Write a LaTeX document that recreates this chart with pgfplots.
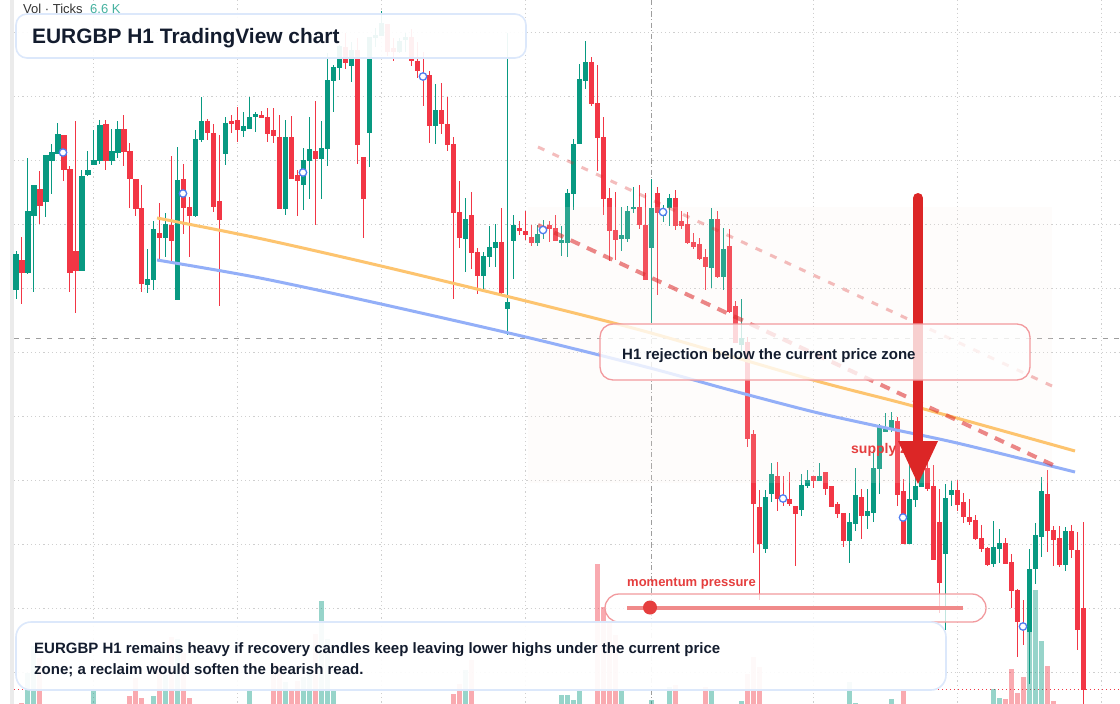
\documentclass[border=0pt]{standalone}
\usepackage{pgfplots}
\usepackage{pgfplotstable}
\usepackage{fontspec}
\setmainfont{Liberation Sans}
\pgfplotsset{compat=1.18}
\definecolor{cg}{HTML}{089981}
\definecolor{cr}{HTML}{F23645}
\definecolor{ink}{HTML}{131C2E}
\definecolor{boxb}{HTML}{DCE8FB}
\definecolor{pinkb}{HTML}{F29A9E}
\definecolor{lab}{HTML}{E53E3E}
\definecolor{orangel}{HTML}{FDC46F}
\definecolor{bluel}{HTML}{93AFF8}
\definecolor{griddot}{HTML}{CFCFCF}
\definecolor{cross}{HTML}{9E9E9E}
\definecolor{mk}{HTML}{4F7CF0}
\definecolor{arrowc}{HTML}{DC2626}
\definecolor{zonec}{HTML}{FBEDE6}
\definecolor{pillc}{HTML}{F08A8A}

\pgfplotstableread{
i top bot hi lo
0 254 290 251 299
2 211 273 158 274
3 185 216 185 292
5 155 202 155 217
6 152 161 144 194
7 134 154 123 154
11 176 271 170 271
12 170 175 151 176
13 160 165 130 165
14 125 161 120 164
16 151 161 129 165
17 129 153 121 158
22 279 285 249 293
23 229 280 221 290
25 224 238 213 257
27 180 300 147 300
30 139 216 130 217
31 121 140 97 142
35 123 154 117 165
38 126 131 112 137
39 117 129 97 129
40 114 117 112 132
45 137 209 120 215
48 160 185 148 210
49 149 161 117 199
51 148 159 121 199
52 80 149 53 166
53 67 81 65 112
54 46 68 45 80
56 50 66 42 82
59 37 133 37 167
60 35 38 28 47
61 23 36 11 36
64 41 52 38 53
65 37 40 33 52
70 110 126 84 144
75 219 239 198 272
78 256 276 252 289
79 247 257 226 267
80 242 248 224 267
82 302 309 33 335
83 225 241 215 279
87 234 243 225 246
88 229 232 220 239
91 240 243 226 256
92 193 243 189 257
93 144 194 139 210
94 79 144 64 144
95 62 81 41 89
101 235 239 207 251
102 211 239 206 242
103 207 209 187 213
106 208 248 179 323
108 209 216 205 222
109 198 208 194 226
116 219 268 208 288
118 249 277 228 290
121 338 345 299 352
125 497 549 490 553
126 474 494 463 502
131 485 510 474 516
132 480 486 470 488
134 476 481 463 481
139 522 541 513 563
140 495 524 468 531
142 511 516 489 529
143 468 513 450 522
144 427 469 424 494
145 429 432 413 432
146 420 430 412 432
149 499 544 465 544
150 486 500 460 507
151 470 487 450 487
155 498 554 484 630
156 490 495 481 506
163 547 564 521 567
164 543 549 529 563
169 569 632 549 684
170 535 569 523 584
171 491 537 477 557
175 531 565 527 571
}\greens

\pgfplotstableread{
i top bot hi lo
1 260 273 237 304
4 189 206 171 224
8 135 170 135 181
9 169 273 166 292
10 251 271 121 313
15 124 161 120 170
18 129 152 115 166
19 151 179 143 208
20 179 209 179 216
21 208 284 185 292
24 233 238 203 261
26 225 241 156 262
28 179 208 164 234
29 207 216 197 257
32 121 133 119 140
33 133 207 124 212
34 201 220 135 306
36 121 124 115 133
37 120 130 107 142
41 115 118 111 118
42 117 134 108 142
43 130 136 108 143
44 137 209 115 209
46 137 179 116 179
47 175 181 170 216
50 151 159 101 225
55 47 63 33 69
57 50 145 38 164
58 157 199 157 238
62 24 52 24 56
63 48 52 38 61
66 37 61 29 66
67 61 71 42 78
68 73 79 52 106
69 75 126 71 143
71 110 124 83 134
72 124 145 97 151
73 144 213 137 299
74 212 238 181 248
76 215 253 192 269
77 252 276 248 294
81 242 293 208 294
84 228 231 221 235
85 231 235 211 240
86 237 243 225 246
89 225 229 221 242
90 228 241 215 241
96 62 104 57 106
97 103 138 65 171
98 137 199 117 215
99 198 231 188 261
100 230 240 192 260
104 207 225 185 229
105 225 280 193 280
107 193 213 187 295
110 198 226 190 230
111 221 226 211 229
112 224 243 212 244
113 242 247 233 249
114 244 259 238 260
115 257 267 249 290
117 219 277 211 278
119 246 312 229 313
120 306 343 301 343
122 342 439 337 447
123 434 504 430 553
124 507 544 490 600
127 476 499 462 511
128 497 501 476 506
129 499 504 472 506
130 506 514 506 566
133 476 481 476 488
135 472 489 472 495
136 486 507 486 507
137 504 514 502 518
138 513 541 513 547
141 497 516 489 539
147 421 495 417 506
148 491 544 479 544
152 468 489 453 491
153 486 560 465 560
154 522 583 489 613
157 490 505 480 511
158 502 517 493 523
159 517 522 499 525
160 520 539 515 540
161 538 549 525 552
162 548 565 547 566
165 543 564 538 564
166 562 591 554 608
167 590 622 589 657
168 623 630 600 645
172 494 531 470 552
173 530 540 526 566
174 538 565 526 567
176 531 550 525 558
177 550 630 532 650
178 608 690 522 704
}\reds

\pgfplotstableread{
i top
2 673
3 646
13 690
23 696
25 675
27 639
39 691
45 682
48 677
49 670
51 601
52 639
53 690
75 670
91 695
92 695
93 700
94 689
101 689
106 700
109 687
116 689
121 701
139 682
140 703
146 699
163 689
164 698
169 630
170 590
171 641
}\volg

\pgfplotstableread{
i top
1 703
4 658
19 696
20 678
21 698
24 663
26 637
28 653
29 698
43 663
44 665
46 691
47 681
50 634
73 694
74 684
76 660
97 564
98 607
99 623
100 635
110 685
115 687
122 674
123 657
124 667
148 690
165 699
166 669
167 693
168 677
172 666
173 701
}\volr

\pgfplotstableread{
x y
63 152.5
183 193.5
303 172.5
423 76.5
543 230
663 212
783 498.5
903 517.5
1023 626.5
}\marks

\pgfplotsset{ebar/.style n args={3}{draw=none,forget plot,mark=none,
  error bars/.cd,y dir=plus,y explicit,error mark=none,
  error bar style={solid,draw=#1,line width=#2,opacity=#3}}}

\begin{document}
\begin{tikzpicture}
\begin{axis}[at={(0,0)},anchor=south west,scale only axis,width=1120pt,height=704pt,
  xmin=0,xmax=1120,ymin=0,ymax=704,y dir=reverse,hide axis,clip=true]

% page background
\fill[white] (axis cs:0,0) rectangle (axis cs:1120,704);
% background strip and grid
\fill[black!8] (axis cs:10,0) rectangle (axis cs:14,704);
\pgfplotsinvokeforeach{32,96,160,224,288,352,416,480,544,608,672}{
  \draw[griddot,line width=0.9pt,dash pattern=on 1.2pt off 3pt] (axis cs:14,#1.5) -- (axis cs:1120,#1.5);}
\pgfplotsinvokeforeach{93.5,237.5,381.5,525.5,813.5,957.5,1101.5}{
  \draw[griddot,line width=0.9pt,dash pattern=on 1.2pt off 3pt] (axis cs:#1,0) -- (axis cs:#1,704);}
\draw[cross,line width=0.9pt,dash pattern=on 5.3pt off 5.7pt] (axis cs:14,338.5) -- (axis cs:1120,338.5);
\draw[cross,line width=0.9pt,dash pattern=on 5.3pt off 2.5pt on 1pt off 2.5pt] (axis cs:651.5,0) -- (axis cs:651.5,704);
\draw[cr,line width=1pt,dash pattern=on 1.2pt off 2.8pt] (axis cs:14,689.5) -- (axis cs:1120,689.5);

% volume
\addplot[ebar={cg}{5pt}{0.42}] table[x expr=16+5.995*\thisrow{i},y=top,y error plus expr=704-\thisrow{top}] {\volg};
\addplot[ebar={cr}{5pt}{0.42}] table[x expr=16+5.995*\thisrow{i},y=top,y error plus expr=704-\thisrow{top}] {\volr};

% candles: wicks, then bodies
\addplot[ebar={cg}{1pt}{1}] table[x expr=16+5.995*\thisrow{i},y=hi,y error plus expr=\thisrow{lo}-\thisrow{hi}] {\greens};
\addplot[ebar={cr}{1pt}{1}] table[x expr=16+5.995*\thisrow{i},y=hi,y error plus expr=\thisrow{lo}-\thisrow{hi}] {\reds};
\addplot[ebar={cg}{5.2pt}{1}] table[x expr=16+5.995*\thisrow{i},y=top,y error plus expr=\thisrow{bot}-\thisrow{top}] {\greens};
\addplot[ebar={cr}{5.2pt}{1}] table[x expr=16+5.995*\thisrow{i},y=top,y error plus expr=\thisrow{bot}-\thisrow{top}] {\reds};

% sampled markers
\addplot[only marks,forget plot,mark=*,mark size=3.7pt,mark options={draw=mk,fill=white,line width=1.3pt}] table[x=x,y=y] {\marks};

% zone
\fill[zonec,fill opacity=0.15] (axis cs:528,207) rectangle (axis cs:1052,483);

% trend lines
\addplot[orangel,line width=3pt,forget plot,smooth] coordinates {(157,218) (260,238.5) (381,266) (530,302) (651,333) (813,380) (913,406) (1075,451)};
\addplot[bluel,line width=3pt,forget plot,smooth] coordinates {(157,260) (260,278) (381,304) (530,338) (650,368) (730,390) (813,411.7) (877,426) (957,443) (1075,472)};
\addplot[arrowc,opacity=0.55,line width=4pt,forget plot,dash pattern=on 10pt off 8pt] coordinates {(538,225) (1053,465)};
\addplot[arrowc,opacity=0.3,line width=3pt,forget plot,dash pattern=on 7pt off 9pt] coordinates {(538,147) (1052,386)};

% labels under arrow
\node[anchor=west,inner sep=0pt,text=lab,font=\fontsize{14}{16}\selectfont\bfseries] at (axis cs:851,450) {supply zone};

% arrow
\draw[arrowc,line width=10pt,line cap=round] (axis cs:918,198) -- (axis cs:918,445);
\fill[arrowc] (axis cs:898,441) -- (axis cs:938,441) -- (axis cs:918,484) -- cycle;

% title
\draw[boxb,line width=1.6pt,fill=white,fill opacity=0.93,rounded corners=11pt] (axis cs:16,14) rectangle (axis cs:526,58);
\node[anchor=west,inner sep=0pt,text=ink,font=\fontsize{20.9}{26}\selectfont\bfseries] at (axis cs:32,38) {EURGBP H1 TradingView chart};
\node[anchor=base west,inner sep=0pt,text=black!80,font=\fontsize{13}{15}\selectfont] at (axis cs:23,13) {Vol · Ticks};
\node[anchor=base west,inner sep=0pt,text=cg!75,font=\fontsize{13}{15}\selectfont] at (axis cs:90,13) {6.6 K};

% annotation
\draw[pinkb,line width=1.3pt,fill=white,fill opacity=0.78,rounded corners=13pt] (axis cs:600,324) rectangle (axis cs:1030,380);
\node[anchor=west,inner sep=0pt,text=ink,font=\fontsize{15}{18}\selectfont\bfseries] at (axis cs:622,356) {H1 rejection below the current price zone};

% momentum
\node[anchor=west,inner sep=0pt,text=lab,font=\fontsize{13}{16}\selectfont\bfseries] at (axis cs:627,584) {momentum pressure};
\draw[pinkb,line width=1.3pt,fill=white,fill opacity=0.75,rounded corners=14pt] (axis cs:605,594) rectangle (axis cs:986,622);
\draw[pillc,line width=4pt] (axis cs:627,607.5) -- (axis cs:963,607.5);
\fill[lab] (axis cs:650,607.5) circle[radius=7pt];

% summary
\draw[boxb,line width=1.6pt,fill=white,fill opacity=0.93,rounded corners=15pt] (axis cs:16,622) rectangle (axis cs:946,690);
\node[anchor=west,inner sep=0pt,text=ink,font=\fontsize{15}{18}\selectfont\bfseries] at (axis cs:34,650) {EURGBP H1 remains heavy if recovery candles keep leaving lower highs under the current price};
\node[anchor=west,inner sep=0pt,text=ink,font=\fontsize{15}{18}\selectfont\bfseries] at (axis cs:34,670) {zone; a reclaim would soften the bearish read.};
\end{axis}
\end{tikzpicture}
\end{document}
